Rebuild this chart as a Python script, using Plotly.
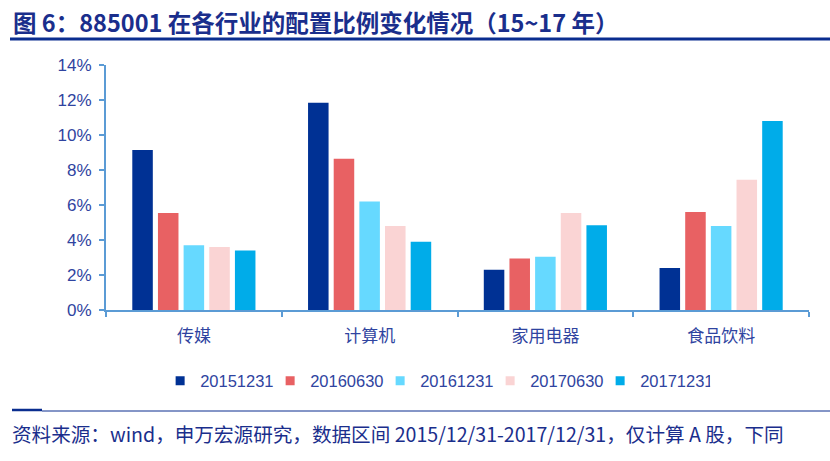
import plotly.graph_objects as go

categories = ["传媒", "计算机", "家用电器", "食品饮料"]
series_names = ["20151231", "20160630", "20161231", "20170630", "20171231"]
v_20151231 = [9.15, 11.85, 2.3, 2.4]
v_20160630 = [5.55, 8.65, 2.95, 5.6]
v_20161231 = [3.7, 6.2, 3.05, 4.8]
v_20170630 = [3.6, 4.8, 5.55, 7.45]
v_20171231 = [3.4, 3.9, 4.85, 10.8]
y_ticks = [0, 2, 4, 6, 8, 10, 12, 14]
y_tick_labels = ["0%", "2%", "4%", "6%", "8%", "10%", "12%", "14%"]

colors = ["#003194", "#E86163", "#66D9FF", "#FAD4D4", "#00ACE9"]
values = [v_20151231, v_20160630, v_20161231, v_20170630, v_20171231]

W, H = 830, 461
L, R, T, B = 106, 21, 65, 151

fig = go.Figure()
for name, vals, c in zip(series_names, values, colors):
    fig.add_trace(go.Bar(x=categories, y=vals, name=name, showlegend=False,
                         marker=dict(color=c, line=dict(width=0))))
# legend entries with small square swatches
for name, c in zip(series_names, colors):
    fig.add_trace(go.Scatter(x=[None], y=[None], mode="markers", name=name,
                             marker=dict(symbol="square", size=9, color=c)))

ax_color = "#5B9BD5"
txt_color = "#2F44A0"
fig.update_layout(
    width=W, height=H,
    margin=dict(l=L, r=R, t=T, b=B, pad=0),
    paper_bgcolor="white", plot_bgcolor="white",
    barmode="group", bargap=0.27, bargroupgap=0.2,
    font=dict(family="Liberation Sans, Arial", color=txt_color, size=16),
    showlegend=True,
    legend=dict(orientation="h", x=0.077, xanchor="left", y=-0.29, yanchor="middle",
                font=dict(size=16.5, family="Liberation Sans, Arial", color=txt_color),
                itemwidth=30, tracegroupgap=0, traceorder="normal",
                entrywidth=65, entrywidthmode="pixels"),
    xaxis=dict(showline=True, linecolor=ax_color, linewidth=2, ticks="outside",
               tickson="boundaries", tickcolor=ax_color, ticklen=5, tickwidth=2,
               ticklabelstandoff=10,
               tickfont=dict(family="Noto Sans CJK SC", size=17, color=txt_color),
               showgrid=False, zeroline=False),
    yaxis=dict(range=[0, 14], tickvals=y_ticks, ticktext=y_tick_labels,
               showline=True, linecolor=ax_color, linewidth=2, ticks="outside",
               tickcolor=ax_color, ticklen=5, tickwidth=2, showgrid=False, zeroline=False,
               ticklabelstandoff=4,
               tickfont=dict(family="Liberation Sans, Arial", size=17, color=txt_color)),
)

def yp(ypx):
    return (H - B - ypx) / (H - T - B)

def xp(xpx):
    return (xpx - L) / (W - L - R)

fig.add_annotation(xref="paper", yref="paper", x=xp(11), y=yp(22),
                   text="<b>图 6：885001 在各行业的配置比例变化情况（15~17 年）</b>", showarrow=False,
                   xanchor="left", yanchor="middle",
                   font=dict(family="Noto Sans CJK SC", size=23.5, color="#1A2E8C"))
fig.add_annotation(xref="paper", yref="paper", x=xp(10), y=yp(433),
                   text="资料来源：wind，申万宏源研究，数据区间 2015/12/31-2017/12/31，仅计算 A 股，下同",
                   showarrow=False, xanchor="left", yanchor="middle",
                   font=dict(family="Noto Sans CJK SC", size=19.6, color="#1A2E8C"))

fig.add_shape(type="line", xref="paper", yref="paper", x0=xp(10), x1=xp(830), y0=yp(39), y1=yp(39),
              line=dict(color="#0A2D8F", width=3))
fig.add_shape(type="line", xref="paper", yref="paper", x0=xp(12), x1=xp(42), y0=yp(410), y1=yp(410),
              line=dict(color="#0A2D8F", width=2.5))
fig.add_shape(type="line", xref="paper", yref="paper", x0=xp(42), x1=xp(830), y0=yp(411), y1=yp(411),
              line=dict(color="#0A2D8F", width=1))

fig.write_html("out.html", config={"displayModeBar": False},
               post_script="document.body.style.margin='0';document.body.style.overflow='hidden';")
